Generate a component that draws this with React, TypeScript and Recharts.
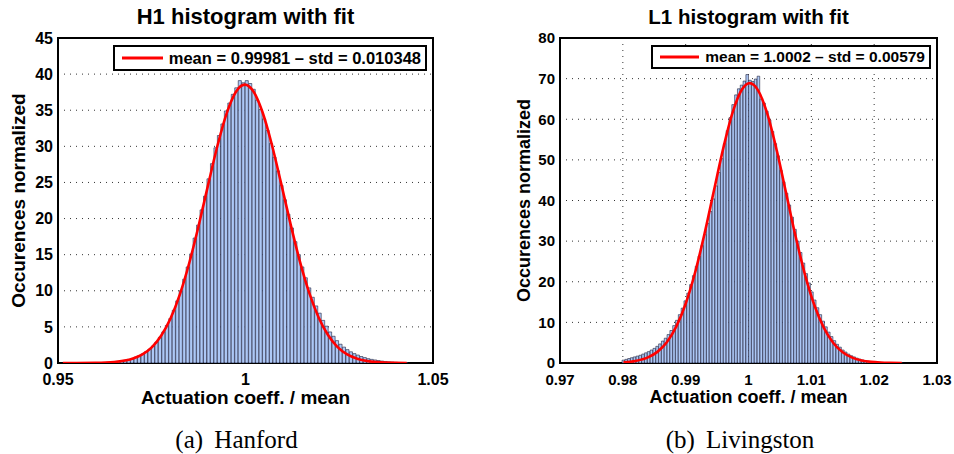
import { Bar, CartesianGrid, ComposedChart, Legend, Line, ReferenceArea, XAxis, YAxis } from 'recharts'

// the page keeps the browser's 8px body margin; drop it so the figure fills the window
if (typeof document !== 'undefined') document.body.style.margin = '0'

const FONT = '"Liberation Sans", Arial, Helvetica, sans-serif'
const SERIF = '"Liberation Serif", "Times New Roman", serif'

// H1 (Hanford) histogram: 100 bins, normalized occurrences
const H1_BIN_START = 0.9513
const H1_BIN_WIDTH = 0.000926
const H1_COUNTS = [
  0, 0, 0, 0.01, 0, 0.01, 0.01, 0.02, 0.02, 0.03,
  0.04, 0.05, 0.07, 0.09, 0.12, 0.16, 0.22, 0.3, 0.38, 0.5,
  0.62, 0.8, 1.0, 1.25, 1.55, 1.9, 2.35, 2.9, 3.55, 4.3,
  5.2, 6.15, 7.3, 8.6, 10.0, 11.6, 13.3, 15.1, 17.3, 19.1,
  21.2, 23.1, 25.5, 27.6, 29.8, 31.5, 33.1, 34.9, 36.0, 37.2,
  38.1, 39.1, 38.8, 39.1, 38.7, 37.9, 36.4, 35.1, 33.8, 32.2,
  30.4, 28.5, 26.6, 24.6, 22.6, 20.6, 18.7, 16.8, 15.0, 13.3,
  11.8, 10.4, 9.1, 7.9, 6.9, 5.9, 5.1, 4.3, 3.7, 3.1,
  2.6, 2.2, 1.85, 1.55, 1.3, 1.1, 0.9, 0.75, 0.6, 0.5,
  0.42, 0.34, 0.27, 0.21, 0.16, 0.12, 0.09, 0.06, 0.04, 0.03,
]
const H1_FIT_X = [
  0.9513, 0.955, 0.96, 0.965, 0.97, 0.9725, 0.975, 0.9775, 0.98, 0.9825, 0.985, 0.9875, 0.99, 0.9925, 0.995, 0.9975,
  0.9998, 1.002, 1.0045, 1.007, 1.0095, 1.012, 1.0145, 1.017, 1.0195, 1.022, 1.0245, 1.027, 1.03, 1.035, 1.04, 1.043,
]
const H1_FIT_Y = [
  0, 0.003, 0.024, 0.13, 0.61, 1.19, 2.17, 3.77, 6.17, 9.51, 13.85, 19.01, 24.6, 30.04, 34.6, 37.6,
  38.55, 37.7, 34.79, 30.29, 24.87, 19.26, 14.07, 9.7, 6.3, 3.87, 2.24, 1.22, 0.55, 0.12, 0.02, 0.006,
]
const H1_X_TICKS = [0.95, 1, 1.05]
const H1_Y_TICKS = [0, 5, 10, 15, 20, 25, 30, 35, 40, 45]

// L1 (Livingston) histogram
const L1_BIN_START = 0.9801
const L1_BIN_WIDTH = 0.000448
const L1_COUNTS = [
  0.7, 0.9, 1.1, 1.3, 1.5, 1.7, 1.9, 2.2, 2.5, 2.8,
  3.2, 3.6, 4.1, 4.7, 5.4, 6.1, 7.0, 8.0, 9.2, 10.5,
  11.9, 13.5, 15.3, 17.2, 19.3, 21.5, 23.8, 26.3, 28.9, 31.6,
  34.4, 37.3, 40.4, 43.6, 46.9, 50.3, 54.0, 57.2, 60.4, 63.6,
  66.0, 67.5, 68.4, 69.4, 71.0, 69.6, 69.3, 69.9, 70.6, 65.0,
  64.0, 62.0, 59.8, 57.0, 54.0, 51.0, 47.4, 44.6, 41.8, 38.9,
  35.9, 32.9, 30.0, 27.2, 24.6, 22.0, 19.7, 17.5, 15.5, 13.6,
  11.9, 10.3, 8.9, 7.6, 6.5, 5.5, 4.6, 3.9, 3.2, 2.7,
  2.2, 1.8, 1.5, 1.2, 0.95, 0.75, 0.6, 0.47, 0.37, 0.29,
  0.22, 0.17, 0.13, 0.1, 0.07, 0.05, 0.04, 0.03, 0.02, 0.01,
]
const L1_FIT_X = [
  0.9801, 0.982, 0.984, 0.9855, 0.987, 0.9885, 0.99, 0.9915, 0.993, 0.9945, 0.996, 0.9975, 0.999, 1.0002, 1.0015,
  1.003, 1.0045, 1.006, 1.0075, 1.009, 1.0105, 1.012, 1.0135, 1.015, 1.0165, 1.018, 1.0195, 1.021, 1.0225, 1.0244,
]
const L1_FIT_Y = [
  0.17, 0.49, 1.38, 2.74, 5.12, 8.94, 14.59, 22.27, 31.8, 42.44, 52.96, 61.8, 67.43, 68.9, 67.18,
  61.3, 52.29, 41.72, 31.12, 21.71, 14.16, 8.64, 4.93, 2.63, 1.31, 0.61, 0.27, 0.11, 0.04, 0.01,
]
const L1_X_TICKS = [0.97, 0.98, 0.99, 1, 1.01, 1.02, 1.03]
const L1_Y_TICKS = [0, 10, 20, 30, 40, 50, 60, 70, 80]

type PanelProps = {
  left: number
  title: string
  caption: string
  legendText: string
  counts: number[]
  binStart: number
  binWidth: number
  fitX: number[]
  fitY: number[]
  xTicks: number[]
  yTicks: number[]
  margin: { top: number; right: number; bottom: number; left: number }
  titleSize: number
  tickSize: number
  labelSize: number
  legendSize: number
  legendRight: number
  legendHeight: number
  legendLine: number
  yLabelOffset: number
  xLabelOffset: number
  verticalGrid: boolean
  captionX: number
}

const W = 477
const H = 454
const Y_AXIS_W = 48
const X_AXIS_H = 44

function Panel(p: PanelProps) {
  const bins = p.counts.map((h, i) => ({ x: p.binStart + i * p.binWidth, h }))
  const fit = p.fitX.map((x, i) => ({ fx: x, y: p.fitY[i] }))
  const xDomain = [p.xTicks[0], p.xTicks[p.xTicks.length - 1]]
  const yDomain = [p.yTicks[0], p.yTicks[p.yTicks.length - 1]]
  const plotW = W - p.margin.left - p.margin.right - Y_AXIS_W
  const barPx = (plotW / (xDomain[1] - xDomain[0])) * p.binWidth
  const tickStyle = { fontSize: p.tickSize, fontWeight: 'bold', fill: '#000', fontFamily: FONT }
  const labelStyle = { fontSize: p.labelSize, fontWeight: 'bold', fill: '#000', fontFamily: FONT, textAnchor: 'middle' as const }
  const plotCenter = p.margin.left + Y_AXIS_W + plotW / 2

  return (
    <div style={{ position: 'absolute', left: p.left, top: 0, width: W, height: H }}>
      <div
        style={{
          position: 'absolute', left: plotCenter - 200, width: 400, top: 17 - p.titleSize * 0.49,
          textAlign: 'center', fontFamily: FONT, fontWeight: 'bold', fontSize: p.titleSize, lineHeight: 1,
        }}
      >
        {p.title}
      </div>
      <ComposedChart
        width={W}
        height={H}
        data={bins}
        margin={p.margin}
        barCategoryGap={0}
        barGap={0}
        style={{ overflow: 'visible' }}
      >
        <CartesianGrid vertical={p.verticalGrid} stroke="#333" strokeDasharray="1 5" />
        <XAxis
          dataKey="x"
          type="number"
          domain={xDomain}
          ticks={p.xTicks}
          interval={0}
          allowDataOverflow
          height={X_AXIS_H}
          axisLine={false}
          tickLine={false}
          tickSize={3}
          tickMargin={8}
          tick={tickStyle}
          tickFormatter={(v: number) => String(v)}
          label={{ value: 'Actuation coeff. / mean', position: 'insideBottom', offset: p.xLabelOffset, style: labelStyle }}
        />
        <XAxis xAxisId="fit" dataKey="fx" type="number" domain={xDomain} allowDataOverflow hide />
        <YAxis
          type="number"
          domain={yDomain}
          ticks={p.yTicks}
          interval={0}
          allowDataOverflow
          width={Y_AXIS_W}
          axisLine={false}
          tickLine={false}
          tickSize={3}
          tickMargin={2}
          tick={tickStyle}
          label={{ value: 'Occurences normalized', angle: -90, position: 'insideLeft', offset: p.yLabelOffset, style: labelStyle }}
        />
        <Bar
          dataKey="h"
          fill="#adc8f6"
          stroke="#1c1f3a"
          strokeWidth={0.6}
          barSize={barPx}
          legendType="none"
          isAnimationActive={false}
        />
        <Line
          xAxisId="fit"
          data={fit}
          dataKey="y"
          name={p.legendText}
          type="monotone"
          stroke="#ff0000"
          strokeWidth={2.6}
          dot={false}
          activeDot={false}
          isAnimationActive={false}
        />
        <ReferenceArea
          x1={xDomain[0]}
          x2={xDomain[1]}
          y1={yDomain[0]}
          y2={yDomain[1]}
          fill="none"
          stroke="#000"
          strokeWidth={2}
          ifOverflow="visible"
        />
        <Legend
          layout="horizontal"
          verticalAlign="middle"
          align="center"
          wrapperStyle={{ top: 45, right: p.legendRight, left: 'auto', width: 'auto' }}
          content={(props: any) => (
            <div
              style={{
                display: 'flex', alignItems: 'center', boxSizing: 'border-box', height: p.legendHeight,
                background: '#fff', border: '2.3px solid #000', padding: '0 4px 0 7px',
                fontFamily: FONT, fontWeight: 'bold', fontSize: p.legendSize, color: '#000', whiteSpace: 'nowrap',
              }}
            >
              {(props.payload ?? [])
                .filter((e: any) => e.type !== 'none')
                .map((e: any) => (
                  <div key={e.value} style={{ display: 'flex', alignItems: 'center' }}>
                    <svg width={p.legendLine} height={6}>
                      <line x1={0} y1={3} x2={p.legendLine} y2={3} stroke={e.color} strokeWidth={3} />
                    </svg>
                    <span style={{ marginLeft: 6 }}>{e.value}</span>
                  </div>
                ))}
            </div>
          )}
        />
      </ComposedChart>
      <div
        style={{
          position: 'absolute', left: p.captionX - 150, width: 300, top: 426.5, textAlign: 'center',
          fontFamily: SERIF, fontSize: 25, lineHeight: 1, wordSpacing: 5,
        }}
      >
        {p.caption}
      </div>
    </div>
  )
}

export default function App() {
  return (
    <div style={{ position: 'relative', width: 954, height: 454, background: '#fff' }}>
      <Panel
        left={0}
        title="H1 histogram with fit"
        caption="(a) Hanford"
        legendText="mean = 0.99981 – std = 0.010348"
        counts={H1_COUNTS}
        binStart={H1_BIN_START}
        binWidth={H1_BIN_WIDTH}
        fitX={H1_FIT_X}
        fitY={H1_FIT_Y}
        xTicks={H1_X_TICKS}
        yTicks={H1_Y_TICKS}
        margin={{ top: 38, right: 44, bottom: 47, left: 10 }}
        titleSize={22}
        tickSize={16}
        labelSize={19}
        legendSize={16.5}
        legendRight={50}
        legendHeight={26}
        legendLine={41}
        yLabelOffset={8}
        xLabelOffset={3}
        verticalGrid={false}
        captionX={236.5}
      />
      <Panel
        left={477}
        title="L1 histogram with fit"
        caption="(b) Livingston"
        legendText="mean = 1.0002 – std = 0.00579"
        counts={L1_COUNTS}
        binStart={L1_BIN_START}
        binWidth={L1_BIN_WIDTH}
        fitX={L1_FIT_X}
        fitY={L1_FIT_Y}
        xTicks={L1_X_TICKS}
        yTicks={L1_Y_TICKS}
        margin={{ top: 38, right: 17, bottom: 47, left: 35 }}
        titleSize={20.5}
        tickSize={15}
        labelSize={18}
        legendSize={15.5}
        legendRight={23}
        legendHeight={24}
        legendLine={39}
        yLabelOffset={12}
        xLabelOffset={4}
        verticalGrid={true}
        captionX={263}
      />
    </div>
  )
}
